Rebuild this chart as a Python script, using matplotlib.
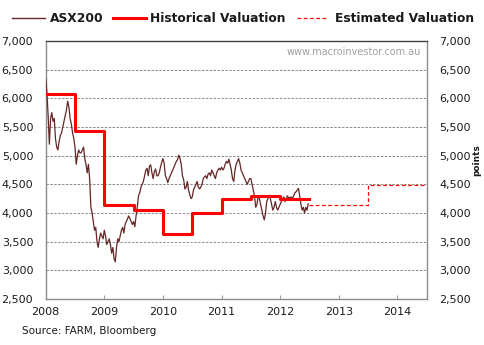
import numpy as np
import matplotlib
matplotlib.use("Agg")
import matplotlib.pyplot as plt
from matplotlib.lines import Line2D

# ASX200, roughly four readings per month, Jan 2008 - Jun 2012
asx200 = [
    # 2008
    6350, 6100, 5700, 5200, 5650, 5750, 5600, 5650,
    5300, 5150, 5100, 5250, 5350, 5400, 5500, 5600,
    5700, 5800, 5950, 5850, 5650, 5550, 5400, 5300,
    5150, 4850, 5000, 5100, 5050, 5050, 5100, 5150,
    4950, 4850, 4700, 4850, 4600, 4100, 4000, 3850,
    3700, 3750, 3500, 3400, 3550, 3650, 3600, 3550,
    # 2009
    3700, 3600, 3450, 3500, 3550, 3450, 3300, 3400,
    3200, 3150, 3400, 3550, 3500, 3600, 3700, 3750,
    3650, 3800, 3850, 3900, 3950, 3900, 3850, 3800,
    3850, 3760, 3950, 4100, 4300, 4350, 4450, 4500,
    4550, 4650, 4750, 4780, 4650, 4820, 4840, 4700,
    4600, 4720, 4770, 4650, 4650, 4700, 4800, 4880,
    # 2010
    4950, 4870, 4650, 4600, 4530, 4600, 4650, 4700,
    4750, 4800, 4850, 4900, 4930, 5010, 4950, 4850,
    4650, 4580, 4420, 4450, 4550, 4400, 4320, 4250,
    4280, 4400, 4450, 4500, 4550, 4450, 4420, 4450,
    4500, 4600, 4630, 4650, 4600, 4680, 4700, 4650,
    4750, 4700, 4650, 4600, 4700, 4750, 4780, 4750,
    # 2011
    4800, 4750, 4780, 4850, 4900, 4870, 4940, 4850,
    4750, 4600, 4550, 4750, 4850, 4900, 4950, 4870,
    4750, 4700, 4650, 4600, 4550, 4500, 4550, 4600,
    4600, 4500, 4400, 4300, 4100, 4150, 4300, 4250,
    4150, 4050, 3950, 3880, 4000, 4200, 4250, 4310,
    4250, 4150, 4050, 4100, 4200, 4100, 4050, 4100,
    # 2012
    4150, 4200, 4250, 4280, 4200, 4250, 4300, 4260,
    4270, 4280, 4250, 4300, 4350, 4370, 4400, 4430,
    4300, 4150, 4050, 4100, 4000, 4100, 4050, 4160,
]
asx_dates = 2008 + np.arange(len(asx200)) / 48.0

# Historical valuation (half-year steps)
hist_dates = [2008.0, 2008.5, 2009.0, 2009.5, 2010.0, 2010.5, 2011.0, 2011.5, 2012.0, 2012.5]
hist_vals = [6070, 5430, 4140, 4050, 3640, 4000, 4250, 4300, 4245, 4245]

# Estimated valuation
est_dates = [2012.5, 2013.5, 2014.5]
est_vals = [4135, 4490, 4490]

year_ticks = [2008, 2009, 2010, 2011, 2012, 2013, 2014]
y_ticks = [2500, 3000, 3500, 4000, 4500, 5000, 5500, 6000, 6500, 7000]

brown = "#642626"
red = "#ff0000"
txt = "#1a1a1a"

fig = plt.figure(figsize=(4.84, 3.45), dpi=100)
ax = fig.add_axes([0.0944, 0.1333, 0.7872, 0.7478])

ax.plot(asx_dates, asx200, color=brown, lw=0.9, zorder=3)
ax.plot(hist_dates, hist_vals, color=red, lw=2.2, drawstyle="steps-post", zorder=4)
ax.plot(est_dates, est_vals, color=red, lw=0.9, ls=(0, (3, 2)), drawstyle="steps-post", zorder=4)

ax.set_xlim(2008, 2014.5)
ax.set_ylim(2500, 7000)
ax.set_xticks(year_ticks)
ax.set_xticklabels([str(y) for y in year_ticks])
ax.set_yticks(y_ticks)
ax.set_yticklabels([f"{v:,}" for v in y_ticks])

for v in y_ticks[1:-1]:
    ax.axhline(v, color="#8a8a8a", lw=0.7, ls=(0, (2.5, 1.5)), zorder=1)

ax.tick_params(axis="y", length=0, labelsize=8, labelcolor=txt, pad=9,
               labelleft=True, labelright=True)
ax.tick_params(axis="x", direction="in", length=3, color="#a0a0a0",
               labelsize=8, labelcolor=txt, pad=6)

for side in ["left", "right", "bottom"]:
    ax.spines[side].set_color("#8c8c8c")
    ax.spines[side].set_linewidth(1.0)
ax.spines["top"].set_color("#404040")
ax.spines["top"].set_linewidth(1.0)

ax.text(0.985, 0.975, "www.macroinvestor.com.au", transform=ax.transAxes,
        ha="right", va="top", fontsize=7, color="#a0a0a0")

fig.text(477 / 484, 1 - 160 / 345, "points", rotation=90, ha="center", va="center",
         fontsize=6.5, fontweight="bold", color=txt)

fig.text(22 / 484, 1 - 331 / 345, "Source: FARM, Bloomberg", ha="left", va="center",
         fontsize=7.5, color=txt)

# legend drawn manually
ly = 1 - 18 / 345
fig.add_artist(Line2D([12 / 484, 45 / 484], [ly, ly], color=brown, lw=1.0))
fig.text(50 / 484, ly, "ASX200", ha="left", va="center", fontsize=8.8, fontweight="bold", color=txt)
fig.add_artist(Line2D([113 / 484, 146 / 484], [ly, ly], color=red, lw=2.2))
fig.text(150 / 484, ly, "Historical Valuation", ha="left", va="center", fontsize=8.8,
         fontweight="bold", color=txt)
fig.add_artist(Line2D([297 / 484, 328 / 484], [ly, ly], color=red, lw=0.9, ls=(0, (3, 2))))
fig.text(335 / 484, ly, "Estimated Valuation", ha="left", va="center", fontsize=8.8,
         fontweight="bold", color=txt)

fig.savefig("out.png", dpi=100)
